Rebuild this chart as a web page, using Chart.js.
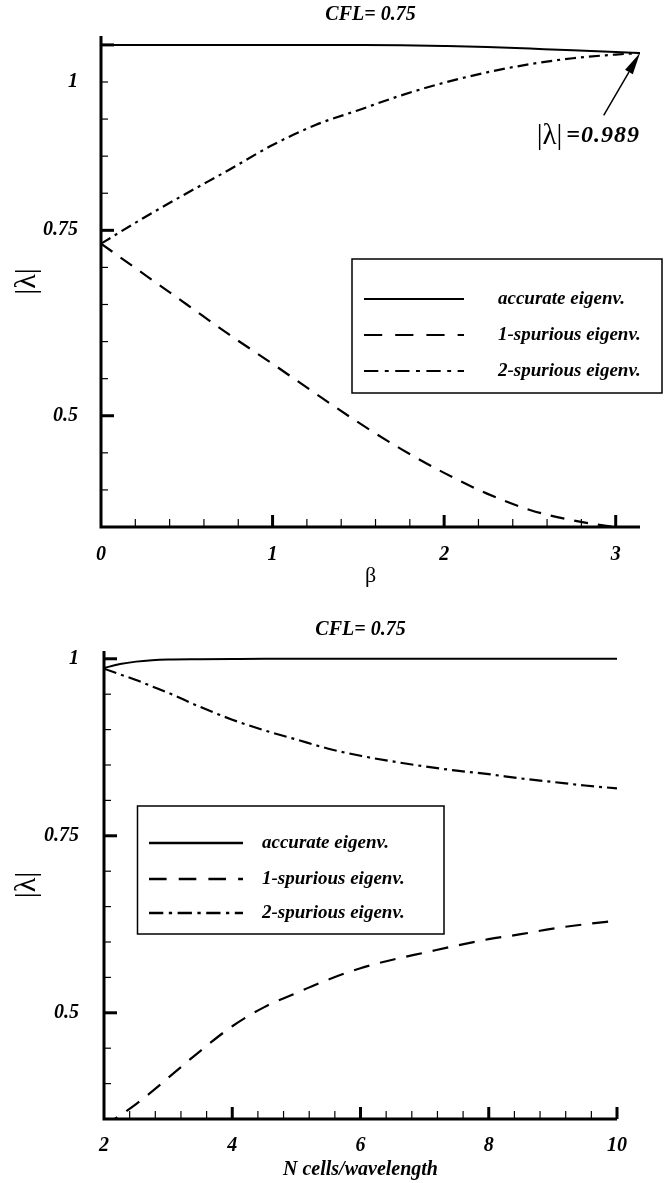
<!DOCTYPE html>
<html>
<head>
<meta charset="utf-8">
<script src="https://cdn.jsdelivr.net/npm/chart.js@4.4.0/dist/chart.umd.min.js"></script>
<style>
  html, body { margin: 0; padding: 0; background: #fff; }
  #top { position: absolute; left: 0; top: 0; width: 664px; height: 600px; }
  #bot { position: absolute; left: 0; top: 600px; width: 664px; height: 583px; }
</style>
</head>
<body>
<div id="top"><canvas id="betaChart"></canvas></div>
<div id="bot"><canvas id="cellsChart"></canvas></div>
<script>
// ---- top panel: |lambda| vs beta ----
const betaVals     = [0, 0.25, 0.5, 0.75, 1, 1.25, 1.5, 1.75, 2, 2.25, 2.5, 2.75, 3, Math.PI];
const betaAccurate = [1, 1, 1, 1, 1, 1, 0.9998, 0.9994, 0.9985, 0.9972, 0.995, 0.9928, 0.9904, 0.989];
const betaSpur1    = [0.732, 0.691, 0.65, 0.609, 0.57, 0.53, 0.491, 0.455, 0.423, 0.395, 0.373, 0.359, 0.35, 0.347];
const betaSpur2    = [0.732, 0.767, 0.8, 0.832, 0.865, 0.892, 0.912, 0.932, 0.949, 0.963, 0.974, 0.982, 0.987, 0.989];
const betaXTicks   = [0, 1, 2, 3];
const betaXLabels  = ["0", "1", "2", "3"];
// the "1" label sits on the 0.95 tick in the original figure
const betaYTicks   = [0.5, 0.75, 0.95];
const betaYLabels  = ["0.5", "0.75", "1"];

// ---- bottom panel: |lambda| vs N cells/wavelength ----
const nVals      = [2, 2.25, 2.5, 2.75, 3, 3.5, 4, 4.5, 5, 5.5, 6, 6.5, 7, 7.5, 8, 8.5, 9, 9.5, 10];
const nAccurate  = [0.987, 0.9925, 0.996, 0.998, 0.999, 0.9995, 0.9998, 1, 1, 1, 1, 1, 1, 1, 1, 1, 1, 1, 1];
const nSpur1     = [0.34, 0.355, 0.371, 0.389, 0.408, 0.446, 0.481, 0.508, 0.528, 0.547, 0.563, 0.575, 0.585, 0.595, 0.604, 0.611, 0.619, 0.625, 0.63];
const nSpur2     = [0.986, 0.978, 0.97, 0.961, 0.952, 0.932, 0.914, 0.899, 0.886, 0.873, 0.863, 0.855, 0.848, 0.842, 0.837, 0.831, 0.826, 0.821, 0.817];
const nXTicks    = [2, 4, 6, 8, 10];
const nXLabels   = ["2", "4", "6", "8", "10"];
const nYTicks    = [0.5, 0.75, 1];
const nYLabels   = ["0.5", "0.75", "1"];

const seriesNames = ["accurate eigenv.", "1-spurious eigenv.", "2-spurious eigenv."];
const noteValue = "=0.989";

const serif = "'Liberation Serif', 'Times New Roman', serif";
const tickFont = { family: serif, size: 20, style: "italic", weight: "bold" };

function pts(xs, ys) {
  return xs.map((x, i) => ({ x: x, y: ys[i] }));
}

// axis lines + inward tick marks, like the original plotting package
const inwardTicks = {
  id: "inwardTicks",
  afterDatasetsDraw(chart, args, o) {
    const { ctx, chartArea: a } = chart;
    const xs = chart.scales.x, ys = chart.scales.y;
    ctx.save();
    ctx.strokeStyle = "#000";
    const tick = (isX, v, len, w) => {
      ctx.lineWidth = w;
      ctx.beginPath();
      if (isX) {
        const p = xs.getPixelForValue(v);
        ctx.moveTo(p, a.bottom); ctx.lineTo(p, a.bottom - len);
      } else {
        const p = ys.getPixelForValue(v);
        ctx.moveTo(a.left, p); ctx.lineTo(a.left + len, p);
      }
      ctx.stroke();
    };
    for (let i = 1; o.xFrom + i * o.xStep <= o.xTo + 1e-9; i++) tick(true, o.xFrom + i * o.xStep, 8, 1.2);
    o.xMajor.forEach(v => tick(true, v, 12, 3));
    for (let i = 1; o.yFrom + i * o.yStep <= o.yTo + 1e-9; i++) tick(false, o.yFrom + i * o.yStep, 7, 1.2);
    o.yMajor.forEach(v => tick(false, v, 13, 3));
    ctx.lineWidth = 3;
    ctx.beginPath();
    ctx.moveTo(a.left, a.top);
    ctx.lineTo(a.left, a.bottom);
    ctx.lineTo(a.right, a.bottom);
    ctx.stroke();
    ctx.restore();
  }
};

const plotTitle = {
  id: "plotTitle",
  afterDraw(chart, args, o) {
    const { ctx, chartArea: a } = chart;
    ctx.save();
    ctx.fillStyle = "#000";
    ctx.font = "italic bold 20px " + serif;
    ctx.textAlign = "center";
    ctx.textBaseline = "middle";
    ctx.fillText(o.text, (a.left + a.right) / 2, o.y);
    ctx.restore();
  }
};

const boxLegend = {
  id: "boxLegend",
  afterDraw(chart, args, o) {
    const { ctx } = chart;
    ctx.save();
    ctx.fillStyle = "#fff";
    ctx.fillRect(o.left, o.top, o.width, o.height);
    ctx.strokeStyle = "#000";
    ctx.lineWidth = 1.5;
    ctx.strokeRect(o.left, o.top, o.width, o.height);
    chart.data.datasets.forEach((ds, i) => {
      const yy = o.rows[i];
      ctx.lineWidth = o.lineWidth;
      ctx.setLineDash((ds.borderDash || []).map(d => d * o.dashScale));
      ctx.beginPath();
      ctx.moveTo(o.sampleFrom, yy);
      ctx.lineTo(o.sampleTo, yy);
      ctx.stroke();
      ctx.setLineDash([]);
      ctx.fillStyle = "#000";
      ctx.font = "italic bold " + o.fontSize + "px " + serif;
      ctx.textBaseline = "middle";
      ctx.fillText(ds.label, o.textX, yy);
    });
    ctx.restore();
  }
};

const arrowNote = {
  id: "arrowNote",
  afterDraw(chart, args, o) {
    if (!o.to) return;
    const { ctx } = chart;
    const xs = chart.scales.x, ys = chart.scales.y;
    const x0 = xs.getPixelForValue(o.from[0]), y0 = ys.getPixelForValue(o.from[1]);
    const x1 = xs.getPixelForValue(o.to[0]), y1 = ys.getPixelForValue(o.to[1]);
    const ang = Math.atan2(y1 - y0, x1 - x0);
    const len = 22, half = 4.5;
    ctx.save();
    ctx.strokeStyle = "#000";
    ctx.fillStyle = "#000";
    ctx.lineWidth = 1.5;
    ctx.beginPath();
    ctx.moveTo(x0, y0);
    ctx.lineTo(x1 - Math.cos(ang) * len, y1 - Math.sin(ang) * len);
    ctx.stroke();
    ctx.beginPath();
    ctx.moveTo(x1, y1);
    ctx.lineTo(x1 - Math.cos(ang) * len - Math.sin(ang) * half, y1 - Math.sin(ang) * len + Math.cos(ang) * half);
    ctx.lineTo(x1 - Math.cos(ang) * len + Math.sin(ang) * half, y1 - Math.sin(ang) * len - Math.cos(ang) * half);
    ctx.closePath();
    ctx.fill();
    // label: |λ| =0.989, right aligned at the anchor value
    const tx = xs.getPixelForValue(o.at[0]), ty = ys.getPixelForValue(o.at[1]);
    ctx.textBaseline = "middle";
    ctx.textAlign = "right";
    ctx.font = "italic bold 24px " + serif;
    ctx.letterSpacing = "1px";
    ctx.fillText(o.value, tx, ty);
    const w = ctx.measureText(o.value).width;
    ctx.letterSpacing = "0px";
    ctx.font = "29px " + serif;
    ctx.fillText("|λ|", tx - w - 4, ty);
    ctx.restore();
  }
};

function makeChart(id, cfg) {
  return new Chart(document.getElementById(id), {
    type: "line",
    data: {
      datasets: [
        { label: seriesNames[0], data: cfg.series[0], borderColor: "#000", borderWidth: 2, borderDash: [] },
        { label: seriesNames[1], data: cfg.series[1], borderColor: "#000", borderWidth: 2.2, borderDash: cfg.dash },
        { label: seriesNames[2], data: cfg.series[2], borderColor: "#000", borderWidth: 2.2, borderDash: cfg.dashDot },
      ],
    },
    options: {
      responsive: true,
      maintainAspectRatio: false,
      animation: false,
      devicePixelRatio: 1,
      layout: { padding: cfg.padding },
      elements: { point: { radius: 0 }, line: { cubicInterpolationMode: "monotone", fill: false } },
      scales: {
        x: {
          type: "linear",
          min: cfg.xMin,
          max: cfg.xMax,
          grid: { display: false },
          border: { display: false },
          afterFit: s => { s.height = cfg.xHeight; },
          afterBuildTicks: s => { s.ticks = cfg.xTicks.map(v => ({ value: v })); },
          ticks: {
            autoSkip: false,
            maxRotation: 0,
            color: "#000",
            font: tickFont,
            padding: cfg.xPad,
            callback: (v, i) => cfg.xLabels[i],
          },
          title: { display: true, text: cfg.xTitle, color: "#000", font: cfg.xTitleFont, padding: { top: 0, bottom: cfg.xTitlePad } },
        },
        y: {
          min: 0.35,
          max: cfg.yMax,
          grid: { display: false },
          border: { display: false },
          afterFit: s => { s.width = cfg.yWidth; },
          afterBuildTicks: s => { s.ticks = cfg.yTicks.map(v => ({ value: v })); },
          ticks: {
            autoSkip: false,
            color: "#000",
            font: tickFont,
            padding: cfg.yPad,
            callback: (v, i) => cfg.yLabels[i],
          },
          title: { display: true, text: "|λ|", color: "#000", font: { family: serif, size: 30 }, padding: { top: 9, bottom: 0 } },
        },
      },
      plugins: {
        legend: { display: false },
        tooltip: { enabled: false },
        plotTitle: { text: "CFL= 0.75", y: cfg.titleY },
        inwardTicks: cfg.ticks,
        boxLegend: cfg.legend,
        arrowNote: cfg.note || {},
      },
    },
    plugins: [inwardTicks, plotTitle, boxLegend, arrowNote],
  });
}

makeChart("betaChart", {
  series: [pts(betaVals, betaAccurate), pts(betaVals, betaSpur1), pts(betaVals, betaSpur2)],
  dash: [14, 10],
  dashDot: [11, 5, 3, 5],
  padding: { left: 0, right: 24, top: 36, bottom: 0 },
  xMin: 0, xMax: Math.PI, yMax: 1.012,
  xHeight: 73, yWidth: 101,
  xTicks: betaXTicks, xLabels: betaXLabels,
  yTicks: betaYTicks, yLabels: betaYLabels,
  xPad: 8, yPad: 15,
  xTitle: "β", xTitleFont: { family: serif, size: 22 }, xTitlePad: 11,
  titleY: 15,
  ticks: { xFrom: 0, xTo: 3, xStep: 0.2, xMajor: [1, 2, 3], yFrom: 0.35, yTo: 1.0, yStep: 0.05, yMajor: [0.5, 0.75, 1] },
  legend: { left: 352, top: 259, width: 310, height: 134, rows: [299, 335, 371], sampleFrom: 364, sampleTo: 464, textX: 498, fontSize: 19, lineWidth: 2, dashScale: 1.3 },
  note: { from: [2.93, 0.905], to: [Math.PI, 0.989], at: [Math.PI, 0.877], value: noteValue },
});

makeChart("cellsChart", {
  series: [pts(nVals, nAccurate), pts(nVals, nSpur1), pts(nVals, nSpur2)],
  dash: [16, 11],
  dashDot: [13, 5, 3, 5],
  padding: { left: 0, right: 47, top: 51, bottom: 0 },
  xMin: 2, xMax: 10, yMax: 1.011,
  xHeight: 64, yWidth: 104,
  xTicks: nXTicks, xLabels: nXLabels,
  yTicks: nYTicks, yLabels: nYLabels,
  xPad: 7, yPad: 17,
  xTitle: "N cells/wavelength", xTitleFont: tickFont, xTitlePad: 1,
  titleY: 30,
  ticks: { xFrom: 2, xTo: 10, xStep: 0.4, xMajor: [4, 6, 8, 10], yFrom: 0.35, yTo: 1.0, yStep: 0.05, yMajor: [0.5, 0.75, 1] },
  legend: { left: 137.5, top: 206, width: 306.5, height: 128, rows: [243, 279, 313], sampleFrom: 149, sampleTo: 243, textX: 262, fontSize: 19, lineWidth: 2.5, dashScale: 1.1 },
});
</script>
</body>
</html>
